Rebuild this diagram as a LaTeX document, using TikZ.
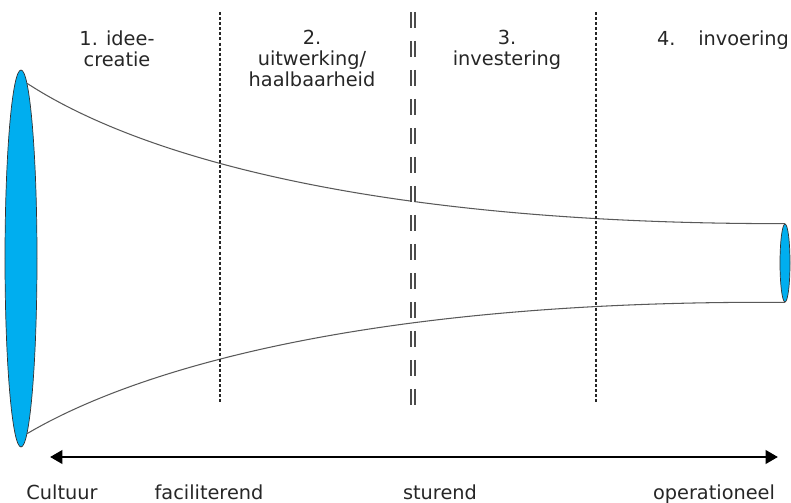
\documentclass[tikz,border=0pt]{standalone}
\usepackage{fontspec}
\setmainfont{DejaVu Sans}
\usepackage{tikz}
\usetikzlibrary{shapes.geometric, arrows.meta}
\definecolor{funnelblue}{RGB}{0,174,239}

\begin{document}
\begin{tikzpicture}[
    opening/.style = {ellipse, draw=black!80, thin, fill=funnelblue, inner sep=0pt},
    wall/.style = {draw=black!65, line width=0.6pt},
    border/.style = {draw=black!85, line width=0.6pt, dash pattern=on 1.7pt off 1.2pt},
    gate/.style = {draw=black!70, double, double distance=0.8pt, line width=1.2pt, dash pattern=on 9pt off 7.5pt},
    reach/.style = {line width=1.7pt, {Triangle[length=7pt,width=7.5pt]}-{Triangle[length=7pt,width=7.5pt]}},
    phase/.style = {align=center, anchor=north, inner sep=0pt, text=black!85, font=\fontsize{11}{12}\selectfont},
    role/.style = {anchor=base, inner sep=0pt, text=black!85, font=\fontsize{11}{12}\selectfont}
  ]
  \useasboundingbox (0,0) rectangle (15.82,10.04);

  % funnel
  \node[opening, minimum width=0.64cm, minimum height=7.54cm] (wide) at (0.42,4.87) {};
  \node[opening, minimum width=0.2cm, minimum height=1.56cm] (narrow) at (15.70,4.78) {};
  \draw[wall] (wide.88.8) .. controls (2.8,6.9) and (7.5,5.56) .. (narrow.north);
  \draw[wall] (wide.-88.8) .. controls (2.8,2.7) and (7.5,4.04) .. (narrow.south);

  % phase borders
  \foreach \x in {4.40, 11.92}
    \draw[border] (\x,9.80) -- (\x,2.00);
  \draw[gate] (8.26,9.80) -- (8.26,1.94);

  % phases
  \node[phase] (idee) at (2.34,9.44) {1. idee-\\creatie};
  \node[phase] (uitwerking) at (6.24,9.44) {2.\\uitwerking/\\haalbaarheid};
  \node[phase] (investering) at (10.14,9.44) {3.\\investering};
  \node[phase] (invoering) at (14.46,9.44) {4.\hspace{13pt}invoering};

  % scale
  \coordinate (left end) at (1.00,0.90);
  \coordinate (right end) at (15.56,0.90);
  \draw[reach] (left end) -- (right end);
  \node[role] (cultuur) at (1.24,0.06) {Cultuur};
  \node[role] (faciliterend) at (4.18,0.06) {faciliterend};
  \node[role] (sturend) at (8.80,0.06) {sturend};
  \node[role] (operationeel) at (14.28,0.06) {operationeel};
\end{tikzpicture}
\end{document}
